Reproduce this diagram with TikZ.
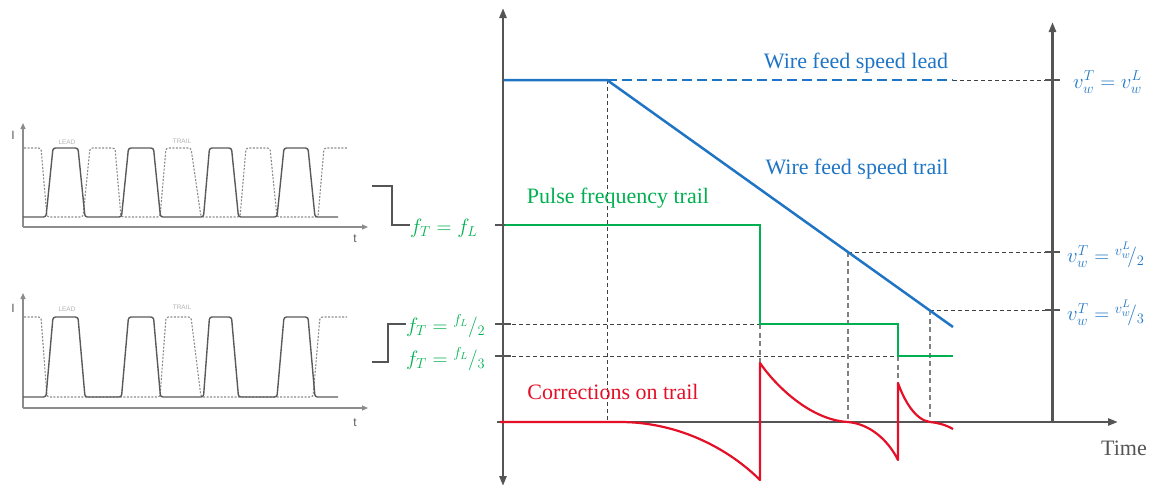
\documentclass[tikz,border=0pt]{standalone}
\usepackage{fontspec}
\setmainfont{Liberation Serif}
\newfontfamily\wavefont{Liberation Sans}
\usetikzlibrary{arrows.meta}
\definecolor{wblue}{RGB}{31,117,196}
\definecolor{pgreen}{RGB}{0,176,80}
\definecolor{cred}{RGB}{228,16,40}
\definecolor{axgray}{RGB}{85,85,85}
\definecolor{dgray}{RGB}{64,64,64}
\definecolor{lgray}{RGB}{128,128,128}
\definecolor{wavegray}{RGB}{90,90,90}
\definecolor{wavelight}{RGB}{140,140,140}
\newcommand\labfont{\fontsize{22}{26}\selectfont}
\newcommand\mathlabfont{\fontsize{21.5}{25}\selectfont}
\newcommand\smallmathlabfont{\fontsize{20.5}{24}\selectfont}
\newcommand\mkleadwave[2]{%
  \draw[leadline] (23,#2) -- (46,#2) -- (53,#1) -- (78,#1) -- (85,#2) -- (121.5,#2) -- (128.5,#1) -- (153.5,#1) -- (160.5,#2) -- (203.5,#2) -- (209.5,#1) -- (231.5,#1) -- (238.5,#2) -- (277,#2) -- (284,#1) -- (308,#1) -- (315,#2) -- (338,#2);}
\begin{document}
\begin{tikzpicture}[x=1pt,y=-1pt,
  axis/.style={draw=axgray, line width=2.6pt},
  bigtip/.style={-{Triangle[length=10pt,width=7pt]}},
  ticks/.style={draw=axgray, line width=2.4pt},
  thindash/.style={draw=dgray, line width=0.9pt, dash pattern=on 4pt off 3pt},
  greydash/.style={draw=lgray, line width=1.5pt, dash pattern=on 5pt off 3.5pt},
  bluecurve/.style={draw=wblue, line width=2.5pt},
  greencurve/.style={draw=pgreen, line width=2.5pt},
  redcurve/.style={draw=cred, line width=2.2pt, line join=round},
  lab/.style={font=\labfont, inner sep=0pt},
  mlab/.style={font=\mathlabfont, inner sep=0pt, anchor=west},
  smlab/.style={font=\smallmathlabfont, inner sep=0pt, anchor=west},
  bracket/.style={draw=axgray, line width=1.8pt},
  waveaxis/.style={draw=wavelight, line width=1.3pt, -{Triangle[length=6pt,width=5pt]}},
  leadline/.style={draw=wavegray, line width=1.4pt, rounded corners=2.5pt},
  trailline/.style={draw=wavelight, line width=1.1pt, dash pattern=on 2pt off 1.5pt, rounded corners=2.5pt},
  wavelab/.style={font=\wavefont\fontsize{6.5}{8}\selectfont, text=gray!60, inner sep=0pt},
  waveaxlab/.style={font=\wavefont\fontsize{12}{14}\selectfont, text=wavegray, inner sep=0pt}
]
\useasboundingbox (0,0) rectangle (1162,488);

% ---------- left waveform panels ----------
% top panel
\draw[waveaxis] (23,227) -- (23,123);
\draw[waveaxis] (23,227) -- (368,227);
\node[waveaxlab] (I1) at (13,135) {I};
\node[waveaxlab] (t1) at (355,239) {t};
\node[wavelab] (lead1) at (67,142) {LEAD};
\node[wavelab] (trail1) at (182,141) {TRAIL};
\draw[trailline] (24,148) -- (41,148) -- (47,217) -- (83,217) -- (90,148) -- (115,148) -- (121,217) -- (160,217) -- (166,148) -- (191,148) -- (201,217) -- (240,217) -- (246,148) -- (270,148) -- (277,217) -- (318,217) -- (324,148) -- (347,148);
\mkleadwave{148}{217}

% bottom panel
\draw[waveaxis] (23,408) -- (23,293);
\draw[waveaxis] (23,408) -- (368,408);
\node[waveaxlab] (I2) at (13,308) {I};
\node[waveaxlab] (t2) at (355,423) {t};
\node[wavelab] (lead2) at (67,309) {LEAD};
\node[wavelab] (trail2) at (182,307) {TRAIL};
\draw[trailline] (24,317) -- (41,317) -- (47,397) -- (160,397) -- (166,317) -- (191,317) -- (201,397) -- (313,397) -- (320,317) -- (347,317);
\mkleadwave{317}{397}

% ---------- main chart ----------
% dashed guides
\draw[thindash] (607,80) -- (607,422);
\draw[thindash] (505,324) -- (760,324);
\draw[thindash] (505,356) -- (898,356);
\draw[thindash] (848,252) -- (1052,252);
\draw[thindash] (930,310) -- (1052,310);
\draw[thindash] (953,80) -- (1052,80);
\draw[greydash] (760,324) -- (760,365);
\draw[greydash] (848,252) -- (848,422);
\draw[greydash] (898,356) -- (898,385);
\draw[greydash] (930,310) -- (930,422);

% axes
\draw[axis, {Triangle[length=10pt,width=7pt]}-{Triangle[length=10pt,width=7pt]}] (503,486) -- (503,8);
\draw[axis, bigtip] (497,422) -- (1118,422);
\draw[axis, bigtip] (1052.5,422) -- (1052.5,22);
\draw[ticks] (495,225) -- (511,225);
\draw[ticks] (495,324) -- (511,324);
\draw[ticks] (495,356) -- (511,356);
\draw[ticks] (1045,80) -- (1060,80);
\draw[ticks] (1045,252) -- (1060,252);
\draw[ticks] (1045,310) -- (1060,310);

% curves
\draw[bluecurve] (504,80) -- (607,80) -- (953,327);
\draw[bluecurve, dash pattern=on 10pt off 5pt] (607,80) -- (953,80);
\draw[greencurve] (505,225) -- (760,225) -- (760,324) -- (898,324) -- (898,356) -- (953,356);
\draw[redcurve] (500,422) -- (620,422) .. controls (680,422) and (730,450) .. (760,480) -- (760,363) .. controls (775,385) and (810,420) .. (848,422) .. controls (870,424) and (888,440) .. (898,460) -- (898,383) .. controls (904,400) and (915,420) .. (930,422) .. controls (940,423) and (948,426) .. (953,429);

% labels
\node[lab, text=wblue] (wfl) at (856,63) {Wire feed speed lead};
\node[lab, text=wblue] (wft) at (857,169) {Wire feed speed trail};
\node[lab, text=pgreen] (pft) at (618,198) {Pulse frequency trail};
\node[lab, text=cred] (cot) at (613,392) {Corrections on trail};
\node[lab, text=axgray] (time) at (1124,448) {Time};

\node[mlab, text=pgreen] (fl1) at (410,228) {$f_T = f_L$};
\node[smlab, text=pgreen] (fl2) at (406,326) {$f_T = {}^{f_L}/_{2}$};
\node[smlab, text=pgreen] (fl3) at (406,359) {$f_T = {}^{f_L}/_{3}$};
\node[mlab, text=wblue] (v1) at (1073,82) {$v_w^T = v_w^L$};
\node[mlab, text=wblue] (v2) at (1067,255) {$v_w^T = {}^{v_w^L}\!/_{2}$};
\node[mlab, text=wblue] (v3) at (1067,313) {$v_w^T = {}^{v_w^L}\!/_{3}$};

% brackets
\draw[bracket] (372,186) -- (392,186) -- (392,225) -- (fl1.west |- 0,225);
\draw[bracket] (372,362) -- (388,362) -- (388,324) -- (fl2.west |- 0,324);
\end{tikzpicture}
\end{document}
